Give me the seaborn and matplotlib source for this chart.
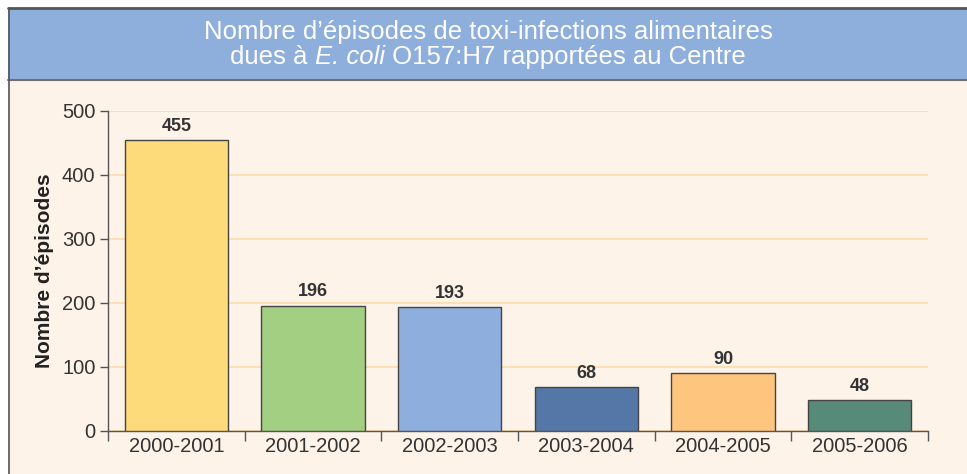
import numpy as np
import matplotlib.pyplot as plt
import seaborn as sns
from matplotlib.patches import Rectangle
from matplotlib.lines import Line2D

# data
saisons = ["2000-2001", "2001-2002", "2002-2003", "2003-2004", "2004-2005", "2005-2006"]
episodes = [455, 196, 193, 68, 90, 48]
couleurs = ["#fddb7a", "#a3cf82", "#8eaedd", "#5577a8", "#fec57e", "#578a78"]

sns.set_theme(style="white")
plt.rcParams['font.family'] = ['Liberation Sans', 'DejaVu Sans']

W, H = 967, 474
fig = plt.figure(figsize=(W / 100, H / 100), dpi=100)
fig.patch.set_facecolor("white")

def fx(px):
    return px / W

def fy(py):
    return 1 - py / H

# cream panel + blue title band
fig.patches.append(Rectangle((fx(8), 0), 1 - fx(8), fy(80), transform=fig.transFigure,
                             facecolor="#fef3e9", edgecolor="none", zorder=-5))
fig.patches.append(Rectangle((fx(8), fy(79)), 1 - fx(8), fy(8) - fy(79), transform=fig.transFigure,
                             facecolor="#8eaedb", edgecolor="none", zorder=-5))
fig.lines.append(Line2D([fx(8), 1], [fy(7.5), fy(7.5)], transform=fig.transFigure, color="#555555", lw=2, zorder=-4))
fig.lines.append(Line2D([fx(8), 1], [fy(79.5), fy(79.5)], transform=fig.transFigure, color="#6f6f6f", lw=1.5, zorder=-4))
fig.lines.append(Line2D([fx(8.5), fx(8.5)], [0, fy(7.5)], transform=fig.transFigure, color="#555555", lw=1.2, zorder=-4))

title_fs = 18.5
fig.text(fx(488), fy(32), "Nombre d\u2019épisodes de toxi-infections alimentaires",
         ha="center", va="center", color="white", fontsize=title_fs)

# second line with italic E. coli, assembled from pieces
pieces = [("dues à ", "normal"), ("E. coli", "italic"), (" O157:H7 rapportées au Centre", "normal")]
txts = [fig.text(0, fy(57), s, ha="left", va="center", color="white",
                 fontsize=title_fs, fontstyle=st) for s, st in pieces]
fig.canvas.draw()
r = fig.canvas.get_renderer()
widths = [t.get_window_extent(r).width for t in txts]
x0 = 488 - sum(widths) / 2
for t, w in zip(txts, widths):
    t.set_x(fx(x0))
    x0 += w

ax = fig.add_axes([fx(108), fy(431), fx(928) - fx(108), fy(111) - fy(431)])
ax.set_facecolor("none")

sns.barplot(x=saisons, y=episodes, hue=saisons, palette=couleurs, legend=False, saturation=1,
            width=0.755, edgecolor="#444444", linewidth=1.0, ax=ax, zorder=3)

for i, v in enumerate(episodes):
    ax.text(i, v + 8, str(v), ha="center", va="bottom", fontsize=13,
            fontweight="bold", color="#333333")

ax.set_xlim(-0.5, 5.5)
ax.set_ylim(0, 500)
ax.set_yticks(range(0, 501, 100))
ax.yaxis.grid(True, color="#fddcaa", lw=1.2, zorder=0)
ax.set_axisbelow(True)

for s in ["top", "right"]:
    ax.spines[s].set_visible(False)
for s in ["left", "bottom"]:
    ax.spines[s].set_color("#555555")
    ax.spines[s].set_linewidth(1.0)

ax.set_xticks(np.arange(6))
ax.set_xticks(np.arange(-0.5, 6, 1), minor=True)
ax.tick_params(axis="x", which="major", length=0, pad=4, labelsize=14.5, labelcolor="#333333")
ax.tick_params(axis="x", which="minor", length=7, width=1, color="#555555", direction="out", bottom=True)
ax.tick_params(axis="y", length=6, width=1, color="#555555", direction="out",
               labelsize=14.5, labelcolor="#333333", pad=3, left=True)

ax.set_ylabel("Nombre d\u2019épisodes", fontsize=15, fontweight="bold", color="#222222", labelpad=6)

fig.savefig("out.png", dpi=100)
